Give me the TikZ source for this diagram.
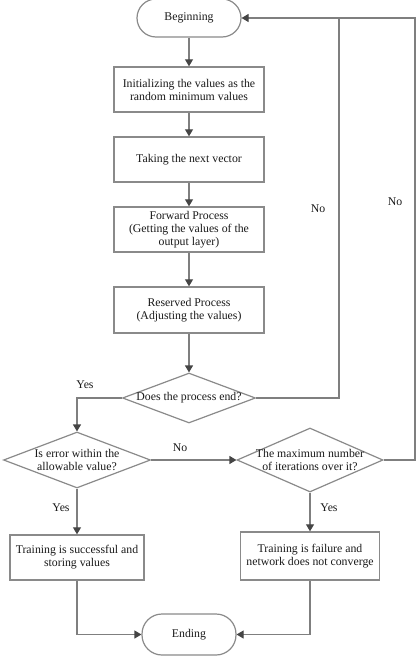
\documentclass[tikz,border=0pt]{standalone}
\usepackage{fontspec}
\setmainfont{Liberation Serif}
\usetikzlibrary{shapes.geometric,arrows.meta}
\definecolor{linegray}{HTML}{7F7F7F}
\definecolor{boxgray}{HTML}{8A8A8A}
\definecolor{tipgray}{HTML}{454545}
\definecolor{txt}{HTML}{1A1A1A}
\begin{document}
\begin{tikzpicture}[x=1pt,y=-1pt,
  every node/.style={font=\fontsize{11.8}{13}\selectfont, text=txt},
  proc/.style={draw=boxgray, line width=1.4pt, fill=white, align=center, inner sep=0pt},
  term/.style={draw=boxgray, line width=1.2pt, fill=white, rounded corners=#1, inner sep=0pt},
  dec/.style={diamond, draw=boxgray, line width=1.2pt, fill=white, inner sep=0pt},
  lbl/.style={align=center, inner sep=0pt},
  conn/.style={draw=linegray, line width=1.2pt},
  arr/.style={conn, -{Triangle[length=7pt,width=8pt,color=tipgray]}}]
\useasboundingbox (0,0) rectangle (417,661);
% nodes
\node[term=19pt, minimum width=104pt, minimum height=38pt] (beg) at (189,18) {Beginning};
\node[proc, minimum width=150pt, minimum height=45pt] (b1) at (189,89.5) {Initializing the values as the\\random minimum values};
\node[proc, minimum width=150pt, minimum height=45pt] (b2) at (189,159.5) {Taking the next vector};
\node[proc, minimum width=150pt, minimum height=45pt] (b3) at (189,229.5) {Forward Process\\(Getting the values of the\\output layer)};
\node[proc, minimum width=150pt, minimum height=46pt] (b4) at (189,310) {Reserved Process\\(Adjusting the values)};
\node[dec, minimum width=133pt, minimum height=50pt] (d1) at (189,398) {};
\node[lbl] (d1t) at (d1) {Does the process end?};
\node[dec, minimum width=147pt, minimum height=56pt] (d2) at (77,460) {};
\node[lbl] (d2t) at (d2) {Is error within the\\allowable value?};
\node[dec, minimum width=146pt, minimum height=64pt] (d3) at (310,460) {};
\node[lbl] (d3t) at (d3) {The maximum number\\of iterations over it?};
\node[proc, minimum width=134pt, minimum height=45pt] (b5) at (77,557.5) {Training is successful and\\storing values};
\node[proc, minimum width=139pt, minimum height=48pt] (b6) at (310,556) {Training is failure and\\network does not converge};
\node[term=20pt, minimum width=94pt, minimum height=41pt] (end) at (189,634.5) {Ending};
\coordinate (c1) at (339,18);
\coordinate (c2) at (415,18);
% connectors
\draw[arr] (beg) -- (b1);
\draw[arr] (b1) -- (b2);
\draw[arr] (b2) -- (b3);
\draw[arr] (b3) -- (b4);
\draw[arr] (b4) -- (d1);
\draw[arr] (d1.west) -| (d2.north);
\draw[arr] (d1.east) -| (c1) -- (beg.east);
\draw[conn] (d3.east) -| (c2) -- (c1);
\draw[arr] (d2.east) -- (d3.west);
\draw[arr] (d2.south) -- (b5.north);
\draw[arr] (d3.south) -- (b6.north);
\draw[arr] (b5.south) |- (end.west);
\draw[arr] (b6.south) |- (end.east);
% labels
\node[lbl] (l1) at (318,209) {No};
\node[lbl] (l2) at (395,202) {No};
\node[lbl] (l3) at (85,385) {Yes};
\node[lbl] (l4) at (180,448) {No};
\node[lbl] (l5) at (61,508) {Yes};
\node[lbl] (l6) at (329,508) {Yes};
\end{tikzpicture}
\end{document}
